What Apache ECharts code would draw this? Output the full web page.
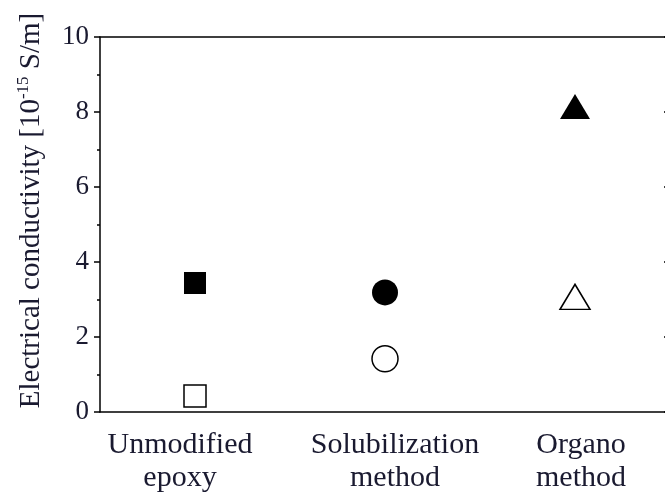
<!DOCTYPE html>
<html><head><meta charset="utf-8">
<script src="https://cdn.jsdelivr.net/npm/echarts@6/dist/echarts.min.js"></script>
<style>html,body{margin:0;padding:0;background:#fff}#c{width:665px;height:501px}</style>
</head><body><div id="c"></div>
<script>
const categories = ['Unmodified\nepoxy', 'Solubilization\nmethod', 'Organo\nmethod'];
const filledValues = [3.44, 3.19, 8.15];
const openValues = [0.43, 1.42, 3.07];
const yTicks = [0, 2, 4, 6, 8, 10];
const symbols = ['rect', 'circle', 'triangle'];
const sizes = [[22, 22], [26, 26], [30, 25]];

const font = 'Liberation Serif';
const txt = '#1a1a30';
const labelStyles = ['l0', 'l1', 'l2'];
const chart = echarts.init(document.getElementById('c'));
function pts(vals) {
  return vals.map((v, i) => ({ value: [categories[i], v], symbol: symbols[i], symbolSize: sizes[i] }));
}
const lblBase = { fontFamily: font, fontSize: 30, color: txt, lineHeight: 33 };
chart.setOption({
  animation: false,
  grid: { left: 100, width: 570, top: 37, height: 375, outerBoundsMode: 'none', containLabel: false },
  xAxis: [{
    type: 'category', data: categories, position: 'bottom', boundaryGap: true,
    axisLine: { onZero: false, lineStyle: { color: '#000', width: 1.5 } },
    axisTick: { alignWithLabel: true, length: 7, lineStyle: { color: '#000', width: 1.5 } },
    axisLabel: {
      interval: 0, fontFamily: font, fontSize: 30, color: txt, lineHeight: 33, margin: 17,
      formatter: (v, i) => v.split('\n').map(s => '{' + labelStyles[i] + '|' + s + '}').join('\n'),
      rich: {
        l0: Object.assign({ padding: [0, 30, 0, 0] }, lblBase),
        l1: Object.assign({ padding: [0, 0, 0, 20] }, lblBase),
        l2: Object.assign({ padding: [0, 0, 0, 12] }, lblBase)
      }
    }
  }, {
    type: 'category', data: categories, position: 'top', boundaryGap: true,
    axisLine: { onZero: false, lineStyle: { color: '#000', width: 1.5 } },
    axisTick: { alignWithLabel: true, inside: true, length: 7, lineStyle: { color: '#000', width: 1.5 } },
    axisLabel: { show: false }
  }],
  yAxis: [{
    type: 'value', min: 0, max: 10, interval: 2, position: 'left',
    name: '{a|Electrical conductivity [10}{s|-15}{a| S/m]}',
    nameLocation: 'middle', nameGap: 52, nameRotate: 90,
    nameTextStyle: {
      padding: [0, 0, 0, 28],
      rich: {
        a: { fontFamily: font, fontSize: 29, color: txt },
        s: { fontFamily: font, fontSize: 17, color: txt, padding: [0, 0, 16, 0] }
      }
    },
    axisLine: { show: true, onZero: false, lineStyle: { color: '#000', width: 1.5 } },
    axisTick: { show: true, length: 6, lineStyle: { color: '#000', width: 1.5 } },
    minorTick: { show: true, splitNumber: 2, length: 3, lineStyle: { color: '#000', width: 1.5 } },
    splitLine: { show: false },
    axisLabel: { fontFamily: font, fontSize: 27, color: txt, margin: 11,
      formatter: v => yTicks.includes(v) ? String(v) : '' }
  }, {
    type: 'value', min: 0, max: 10, interval: 2, position: 'right',
    axisLine: { show: true, onZero: false, lineStyle: { color: '#000', width: 1.5 } },
    axisTick: { show: true, inside: true, length: 6, lineStyle: { color: '#000', width: 1.5 } },
    minorTick: { show: true, splitNumber: 2, length: 3, lineStyle: { color: '#000', width: 1.5 } },
    splitLine: { show: false },
    axisLabel: { show: false }
  }],
  series: [{
    type: 'scatter', data: pts(filledValues),
    itemStyle: { color: '#000', opacity: 1 }
  }, {
    type: 'scatter', data: pts(openValues),
    itemStyle: { color: '#fff', borderColor: '#000', borderWidth: 1.5, opacity: 1 }
  }]
});
</script></body></html>
